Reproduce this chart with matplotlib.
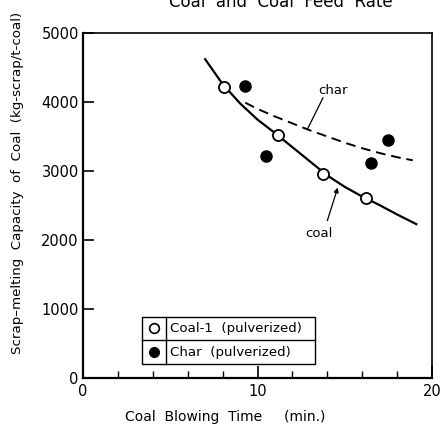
import matplotlib.pyplot as plt
from matplotlib.patches import Rectangle

# Data
coal_time = [8.1, 11.2, 13.75, 16.2]
coal_cap = [4220, 3520, 2960, 2610]

char_time = [9.3, 10.5, 16.5, 17.5]
char_cap = [4230, 3215, 3115, 3450]

# fitted curves
coal_fit_t = [7.0, 8.0, 9.0, 10.0, 11.0, 12.0, 13.0, 14.0, 15.0, 16.0, 17.0, 18.0, 19.1]
coal_fit_c = [4620, 4260, 3980, 3745, 3550, 3345, 3140, 2935, 2770, 2630, 2505, 2370, 2230]

char_fit_t = [9.3, 10.0, 11.0, 12.0, 13.0, 14.0, 15.0, 16.0, 17.0, 18.0, 18.9]
char_fit_c = [3990, 3900, 3790, 3690, 3590, 3500, 3410, 3330, 3260, 3200, 3155]

plt.rcParams['font.family'] = 'DejaVu Sans'

fig = plt.figure(figsize=(4.42, 4.25), dpi=100)
ax = fig.add_axes([83 / 442, 1 - 378 / 425, (432 - 83) / 442, (378 - 33) / 425])

ax.plot(coal_fit_t, coal_fit_c, color='black', lw=1.6, zorder=2)
ax.plot(char_fit_t, char_fit_c, color='black', lw=1.4, ls=(0, (5, 3)), zorder=2)

ax.plot(coal_time, coal_cap, 'o', ms=8, mfc='white', mec='black', mew=1.3, zorder=3)
ax.plot(char_time, char_cap, 'o', ms=8, mfc='black', mec='black', zorder=3)

# curve labels with leader lines
ax.text(14.3, 4170, 'char', fontsize=9.5, ha='center', va='center')
ax.plot([13.75, 12.85], [4060, 3600], color='black', lw=0.9)
ax.text(13.5, 2100, 'coal', fontsize=9.5, ha='center', va='center')
ax.annotate('', xy=(14.6, 2760), xytext=(14.0, 2280),
            arrowprops=dict(arrowstyle='-|>', color='black', lw=0.9,
                            mutation_scale=7, shrinkA=0, shrinkB=0))

# legend box drawn as a small table
x0, x1, xd = 3.38, 13.3, 4.76
y0, ym, y1 = 200, 550, 885
ax.add_patch(Rectangle((x0, y0), x1 - x0, y1 - y0, fill=False, lw=1.0, zorder=4))
ax.plot([x0, x1], [ym, ym], color='black', lw=1.0, zorder=4)
ax.plot([xd, xd], [y0, y1], color='black', lw=1.0, zorder=4)
ax.plot([4.07], [(ym + y1) / 2], 'o', ms=7, mfc='white', mec='black', mew=1.2, zorder=5)
ax.plot([4.07], [(y0 + ym) / 2], 'o', ms=7, mfc='black', mec='black', zorder=5)
ax.text(5.0, (ym + y1) / 2, 'Coal-1  (pulverized)', fontsize=9.6, va='center')
ax.text(5.0, (y0 + ym) / 2, 'Char  (pulverized)', fontsize=9.6, va='center')

ax.set_xlim(0, 20)
ax.set_ylim(0, 5000)
ax.set_xticks([0, 10, 20])
ax.set_xticks([2, 4, 6, 8, 12, 14, 16, 18], minor=True)
ax.set_yticks([0, 1000, 2000, 3000, 4000, 5000])
ax.tick_params(axis='both', which='major', direction='in', labelsize=10.5, width=1.2)
ax.tick_params(axis='x', which='major', length=9, pad=4)
ax.tick_params(axis='x', which='minor', direction='in', length=5, width=1.0)
ax.tick_params(axis='y', which='major', length=8, pad=3)
for side in ['left', 'bottom']:
    ax.spines[side].set_linewidth(1.6)
for side in ['top', 'right']:
    ax.spines[side].set_linewidth(1.2)

fig.text(225 / 442, 1 - 417 / 425, 'Coal  Blowing  Time     (min.)', fontsize=10,
         ha='center', va='center')
fig.text(18 / 442, 1 - 183 / 425, 'Scrap\u2013melting  Capacity  of  Coal  (kg-scrap/t-coal)',
         fontsize=9.6, rotation=90, ha='center', va='center')
fig.text(281 / 442, 1 - 7 / 425, 'Coal  and  Coal  Feed  Rate', fontsize=12,
         ha='center', va='baseline')

plt.savefig('out.png', dpi=100)
